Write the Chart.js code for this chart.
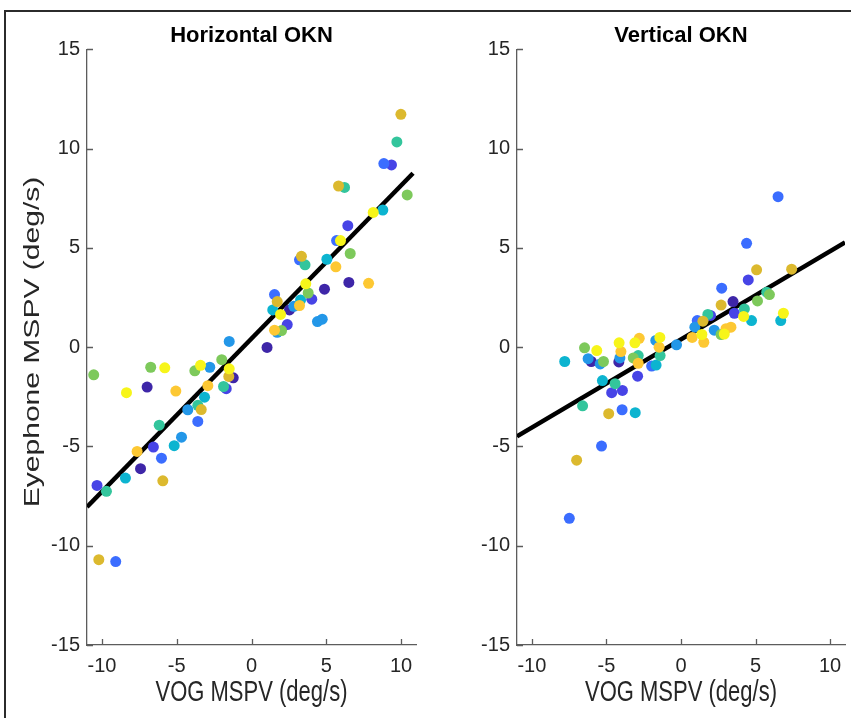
<!DOCTYPE html>
<html>
<head>
<meta charset="utf-8">
<script src="https://cdn.jsdelivr.net/npm/chart.js@4.4.1/dist/chart.umd.min.js"></script>
<style>
  html, body { margin: 0; padding: 0; background: #fff; overflow: hidden; }
  #wrap { position: relative; width: 851px; height: 718px; }
  #frame { position: absolute; left: 4px; top: 10px; width: 900px; height: 800px;
           border-left: 2px solid #2b2b2b; border-top: 2px solid #2b2b2b; }
  canvas { position: absolute; top: 0; }
  #left { left: 0; }
  #right { left: 430px; }
</style>
</head>
<body>
<div id="wrap">
  <div id="frame"></div>
  <canvas id="left" width="430" height="718"></canvas>
  <canvas id="right" width="430" height="718"></canvas>
</div>
<script>
// Axis ticks (both panels)
const X_TICKS = [-10, -5, 0, 5, 10];
const Y_TICKS = [-15, -10, -5, 0, 5, 10, 15];

// One colour per subject (parula-like)
const COLORS = ['#3e26a8', '#4744e6', '#3b6dff', '#2397e8', '#0cb4d0',
                '#33c59c', '#7dc95b', '#dcb92e', '#fdc833', '#f7f51a'];

// Horizontal OKN: VOG (x) vs Eyephone (y), subject index per point
const H_X = [-6.98, -7.42, -1.22, 2.54, 4.88, 6.51, 1.04,
             -10.33, -6.56, -1.69, 4.03, 2.39, 6.44, 9.36,
             -9.08, -6.02, -3.59, 1.54, 3.21, 5.69, 8.85,
             -4.68, -4.26, -2.79, -1.49, 2.83, 4.41, 4.73, 1.72,
             -8.43, -5.17, -3.14, 1.42, 3.28, 5.04, 8.78,
             -9.7, -6.17, -3.59, -1.87, 3.58, 6.22, 9.72,
             -10.55, -6.74, -3.79, -1.99, 2.01, 3.79, 6.6, 10.41,
             -10.21, -5.93, -3.36, -1.52, 1.72, 3.34, 5.82, 9.99,
             -7.65, -5.06, -2.92, 1.54, 3.21, 5.64, 7.83,
             -8.36, -5.8, -3.41, -1.49, 1.94, 3.63, 5.95, 8.14];
const H_Y = [-2.01, -6.12, -1.54, 1.88, 2.92, 3.26, -0.01,
             -6.96, -5.03, -2.09, 2.42, 1.14, 6.12, 9.18,
             -10.8, -5.59, -3.74, 2.65, 4.40, 5.37, 9.25,
             -4.53, -3.15, -1.01, 0.29, 2.06, 1.29, 1.41, 0.75,
             -6.59, -4.96, -2.52, 1.88, 2.38, 4.43, 6.91,
             -7.26, -3.93, -2.93, -1.98, 4.15, 8.05, 10.34,
             -1.39, -1.01, -1.19, -0.63, 0.84, 2.73, 4.72, 7.67,
             -10.7, -6.73, -3.14, -1.47, 2.3, 4.58, 8.12, 11.73,
             -5.25, -2.21, -1.94, 0.86, 2.1, 4.05, 3.22,
             -2.29, -1.04, -0.91, -1.09, 1.65, 3.19, 5.37, 6.79];
const H_SUBJ = [0, 0, 0, 0, 0, 0, 0,
                1, 1, 1, 1, 1, 1, 1,
                2, 2, 2, 2, 2, 2, 2,
                3, 3, 3, 3, 3, 3, 3, 3,
                4, 4, 4, 4, 4, 4, 4,
                5, 5, 5, 5, 5, 5, 5,
                6, 6, 6, 6, 6, 6, 6, 6,
                7, 7, 7, 7, 7, 7, 7, 7,
                8, 8, 8, 8, 8, 8, 8,
                9, 9, 9, 9, 9, 9, 9, 9];
const H_FIT_X = [-11, 10.8];
const H_FIT_Y = [-8.05, 8.76];

// Vertical OKN
const V_X = [-6.02, -4.17, 3.49,
             -4.65, -3.93, -2.91, 1.98, 3.58, 4.51,
             -7.49, -5.33, -3.95, -1.97, 1.09, 2.73, 4.4, 6.51,
             -6.23, -5.42, -4.1, -1.69, -0.3, 0.93, 2.23,
             -7.8, -5.27, -3.07, -1.67, 4.73, 6.69,
             -6.6, -4.42, -2.87, -1.4, 1.8, 4.25, 5.75,
             -6.47, -5.2, -3.2, 2.69, 5.13, 5.93,
             -7.0, -4.85, 1.47, 2.69, 5.07, 7.42,
             -4.03, -2.8, -2.87, -1.47, 0.75, 1.53, 3.02, 3.35,
             -5.65, -4.15, -3.09, -1.42, 1.4, 2.9, 4.2, 6.87];
const V_Y = [-0.72, -0.74, 2.3,
             -2.29, -2.18, -1.46, 1.6, 1.71, 3.39,
             -8.62, -4.98, -3.15, -0.95, 1.34, 2.97, 5.23, 7.58,
             -0.58, -0.84, -0.54, 0.34, 0.12, 1.01, 0.86,
             -0.72, -1.68, -3.3, -0.9, 1.34, 1.34,
             -2.95, -1.84, -0.42, -0.42, 1.65, 1.93, 2.77,
             -0.03, -0.72, -0.54, 0.64, 2.33, 2.65,
             -5.69, -3.35, 1.31, 2.12, 3.9, 3.93,
             -0.22, 0.45, -0.81, 0, 0.49, 0.25, 0.93, 1.01,
             -0.17, 0.22, 0.22, 0.49, 0.64, 0.66, 1.55, 1.71];
const V_SUBJ = [0, 0, 0,
                1, 1, 1, 1, 1, 1,
                2, 2, 2, 2, 2, 2, 2, 2,
                3, 3, 3, 3, 3, 3, 3,
                4, 4, 4, 4, 4, 4,
                5, 5, 5, 5, 5, 5, 5,
                6, 6, 6, 6, 6, 6,
                7, 7, 7, 7, 7, 7,
                8, 8, 8, 8, 8, 8, 8, 8,
                9, 9, 9, 9, 9, 9, 9, 9];
const V_FIT_X = [-11, 11];
const V_FIT_Y = [-4.49, 5.28];

const AXIS_COLOR = '#5c5c5c';
const TEXT_COLOR = '#262626';
const FONT = "'Liberation Sans', Arial, sans-serif";
const STRETCH = 1.3;   // the original figure's text is drawn taller than wide

// MATLAB style ticks pointing into the plot
const inwardTicks = {
    id: 'inwardTicks',
    afterDraw(chart) {
        const ctx = chart.ctx;
        const area = chart.chartArea;
        const xs = chart.scales.x;
        const ys = chart.scales.y;
        ctx.save();
        ctx.strokeStyle = AXIS_COLOR;
        ctx.lineWidth = 1.3;
        ctx.beginPath();
        X_TICKS.forEach(v => {
            const px = Math.round(xs.getPixelForValue(v)) + 0.5;
            ctx.moveTo(px, area.bottom);
            ctx.lineTo(px, area.bottom - 6);
        });
        Y_TICKS.forEach(v => {
            const py = Math.round(ys.getPixelForValue(v)) + 0.5;
            ctx.moveTo(area.left, py);
            ctx.lineTo(area.left + 6, py);
        });
        ctx.stroke();
        ctx.restore();
    },
};

// axis titles, stretched along the vertical like the source image
const axisTitles = {
    id: 'axisTitles',
    afterDraw(chart, args, opts) {
        const ctx = chart.ctx;
        const area = chart.chartArea;
        ctx.save();
        ctx.fillStyle = TEXT_COLOR;
        ctx.font = '22px ' + FONT;
        ctx.textAlign = 'center';
        ctx.textBaseline = 'middle';
        if (opts.x) {
            ctx.save();
            ctx.translate((area.left + area.right) / 2, 693);
            ctx.scale(1, STRETCH);
            ctx.fillText(opts.x, 0, 0);
            ctx.restore();
        }
        if (opts.y) {
            ctx.save();
            ctx.translate(33, 342);
            ctx.rotate(-Math.PI / 2);
            ctx.scale(STRETCH * 1.05, 1);
            ctx.fillText(opts.y, 0, 0);
            ctx.restore();
        }
        ctx.restore();
    },
};

function makePanel(canvasId, title, xs, ys, subj, fitX, fitY, yTitle, rightPad) {
    const points = xs.map((x, i) => ({ x: x, y: ys[i] }));
    const fit = fitX.map((x, i) => ({ x: x, y: fitY[i] }));

    return new Chart(document.getElementById(canvasId), {
        type: 'scatter',
        data: {
            datasets: [
                {
                    data: points,
                    pointRadius: 5.5,
                    pointBorderWidth: 0,
                    pointBackgroundColor: subj.map(s => COLORS[s]),
                    order: 0,
                },
                {
                    type: 'line',
                    data: fit,
                    borderColor: '#000',
                    borderWidth: 4.5,
                    pointRadius: 0,
                    fill: false,
                    order: 1,
                },
            ],
        },
        options: {
            responsive: false,
            animation: false,
            devicePixelRatio: 1,
            layout: { padding: { left: 0, right: rightPad, top: 0, bottom: 0 } },
            plugins: {
                legend: { display: false },
                tooltip: { enabled: false },
                title: {
                    display: true,
                    text: title,
                    fullSize: false,
                    color: '#000',
                    font: { family: FONT, size: 22, weight: 'bold' },
                    padding: { top: 23, bottom: 0 },
                },
                axisTitles: { x: 'VOG MSPV (deg/s)', y: yTitle },
            },
            scales: {
                x: {
                    type: 'linear',
                    min: -11,
                    max: 11,
                    afterBuildTicks: s => { s.ticks = X_TICKS.map(v => ({ value: v })); },
                    afterFit: s => { s.height = 73; },
                    grid: { display: false, drawTicks: false },
                    border: { display: true, color: AXIS_COLOR, width: 1.3 },
                    ticks: {
                        color: TEXT_COLOR,
                        font: { family: FONT, size: 20 },
                        padding: 9,
                        maxRotation: 0,
                        autoSkip: false,
                    },
                },
                y: {
                    type: 'linear',
                    min: -15,
                    max: 15,
                    afterBuildTicks: s => { s.ticks = Y_TICKS.map(v => ({ value: v })); },
                    afterFit: s => { s.width = 87; },
                    grid: { display: false, drawTicks: false },
                    border: { display: true, color: AXIS_COLOR, width: 1.3 },
                    ticks: {
                        color: TEXT_COLOR,
                        font: { family: FONT, size: 20 },
                        padding: 7,
                        autoSkip: false,
                    },
                },
            },
        },
        plugins: [inwardTicks, axisTitles],
    });
}

makePanel('left', 'Horizontal OKN', H_X, H_Y, H_SUBJ, H_FIT_X, H_FIT_Y, 'Eyephone MSPV (deg/s)', 14);
makePanel('right', 'Vertical OKN', V_X, V_Y, V_SUBJ, V_FIT_X, V_FIT_Y, '', 15);
</script>
</body>
</html>
